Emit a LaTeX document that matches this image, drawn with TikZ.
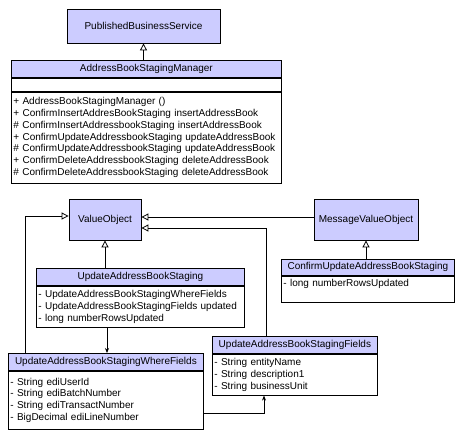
\documentclass[tikz,border=0pt]{standalone}
\usepackage{fontspec}
\setmainfont{Liberation Sans}
\usetikzlibrary{positioning,arrows.meta}
\definecolor{ClassBlue}{HTML}{CCCCFF}

\begin{document}
\begin{tikzpicture}[x=1pt, y=-1pt, line width=0.8pt,
    every node/.style={font=\fontsize{10}{11.8}\selectfont}]
    \tikzstyle{cls}=[draw, fill=ClassBlue, align=center, inner sep=0pt]
    \tikzstyle{chead}=[draw, fill=ClassBlue, align=center, inner sep=0pt, anchor=north west]
    \tikzstyle{cbody}=[draw, fill=white, align=left, inner xsep=2pt, inner ysep=0pt]
    \tikzstyle{inherit}=[-{Triangle[open, length=7pt, width=7pt]}]
    \tikzstyle{assoc}=[-{Stealth[length=5pt, width=4pt]}]

    \useasboundingbox (0,0) rectangle (464,438);

    % service and manager
    \node[cls, minimum width=153pt, minimum height=34pt] (pbs) at (143.5,26) {PublishedBusinessService};
    \node[chead, minimum width=270pt, minimum height=17pt] (absmh) at (11,60) {AddressBookStagingManager};
    \node[cbody, text width=266pt, minimum height=13pt, below=0pt of absmh] (absma) {};
    \node[cbody, text width=266pt, minimum height=91pt, below=0pt of absma] (absmb) {%
        + AddressBookStagingManager ()\\
        + ConfirmInsertAddresBookStaging insertAddressBook\\
        \# ConfirmInsertAddressbookStaging insertAddressBook\\
        + ConfirmUpdateAddressbookStaging updateAddressBook\\
        \# ConfirmUpdateAddressbookStaging updateAddressBook\\
        + ConfirmDeleteAddressbookStaging deleteAddressBook\\
        \# ConfirmDeleteAddressbookStaging deleteAddressBook};

    % value objects
    \node[cls, minimum width=72pt, minimum height=41pt] (vo) at (105,219.5) {ValueObject};
    \node[cls, minimum width=104pt, minimum height=41pt] (mvo) at (366,219.5) {MessageValueObject};

    \node[chead, minimum width=173pt, minimum height=16pt] (cuabsh) at (281,259) {ConfirmUpdateAddressBookStaging};
    \node[cbody, text width=169pt, text height=10pt, text depth=16pt, below=0pt of cuabsh] (cuabsb) {- long numberRowsUpdated};

    \node[chead, minimum width=208pt, minimum height=17pt] (uabsh) at (36,268) {UpdateAddressBookStaging};
    \node[cbody, text width=204pt, minimum height=41pt, below=0pt of uabsh] (uabsb) {%
        - UpdateAddressBookStagingWhereFields\\
        - UpdateAddressBookStagingFields updated\\
        - long numberRowsUpdated};

    \node[chead, minimum width=195pt, minimum height=17pt] (wfh) at (8,353) {UpdateAddressBookStagingWhereFields};
    \node[cbody, text width=191pt, minimum height=58pt, below=0pt of wfh] (wfb) {%
        - String ediUserId\\
        - String ediBatchNumber\\
        - String ediTransactNumber\\
        - BigDecimal ediLineNumber};

    \node[chead, minimum width=165pt, minimum height=17pt] (fh) at (212,336) {UpdateAddressBookStagingFields};
    \node[cbody, text width=161pt, minimum height=41pt, below=0pt of fh] (fb) {%
        - String entityName\\
        - String description1\\
        - String businessUnit};

    % connectors
    \draw[inherit] (absmh.north -| pbs.south) -- (pbs.south);
    \draw[inherit] (uabsh.north -| vo.south) -- (vo.south);
    \draw[inherit] (cuabsh.north -| mvo.south) -- (mvo.south);
    \draw[inherit] ([yshift=2.5pt]mvo.west) -- ([yshift=2.5pt]vo.east);
    \draw[inherit] ([xshift=54pt]fh.north west) |- ([yshift=-8.5pt]vo.east);
    \draw[inherit] ([xshift=17pt]wfh.north west) |- ([yshift=3.5pt]vo.west);
    \draw[assoc] ([xshift=71pt]uabsb.south west) -- ([xshift=71pt]uabsb.south west |- wfh.north);
    \draw[assoc] ([yshift=-13pt]wfb.east) -| ([xshift=52pt]fb.south west);

\end{tikzpicture}
\end{document}
